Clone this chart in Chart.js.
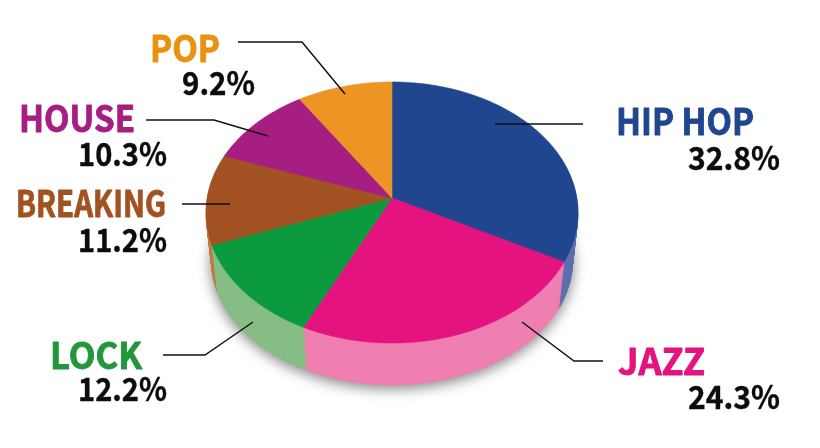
<!DOCTYPE html>
<html><head><meta charset="utf-8">
<style>html,body{margin:0;padding:0;background:#fff}canvas{display:block}#w{width:820px;height:448px;position:relative}</style>
<script src="https://cdn.jsdelivr.net/npm/chart.js@4"></script>
</head><body><div id="w"><canvas id="c" width="820" height="448"></canvas></div>
<script>
const categories = ['HIP HOP','JAZZ','LOCK','BREAKING','HOUSE','POP'];
const shares = [32.8,24.3,12.2,11.2,10.3,9.2];
const topColors = ['#20468f','#e4137f','#0b9a3e','#a25222','#a61e82','#ec9424'];
const wallColors = ['#5d6fae','#ef7fb0','#86bd84','#c07c46','#b860a0','#eeb060'];
const nameColors = ['#20468f','#e4137f','#22963c','#a25222','#a61e82','#e8920f'];
const labelLayout = [
 {nx:616,ny:135,nw:138,vr:780,vy:170,vw:92,line:[[495,124],[583,124]]},
 {nx:618,ny:375,nw:87,vr:780,vy:409,vw:92,line:[[522,322],[574,361],[603,361]]},
 {nx:50,ny:369,nw:92,vr:167,vy:401,vw:89,line:[[163,355],[205,355],[253,322]]},
 {nx:16,ny:217,nw:150,vr:167,vy:252,vw:89,line:[[182,204],[230,204]]},
 {nx:19,ny:132,nw:116,vr:167,vy:166,vw:89,line:[[146,120],[214,120],[268,136]]},
 {nx:150,ny:62,nw:70,vr:255,vy:95,vw:73,line:[[238,42],[302,42],[345,94]]}
];
// Perspective of the disc: apex position and projection strengths
const CX=392,CY=198,AX=184.85,BY=128.9,K=1/9,DEPTH=49.5,SY_END=0.948,SX_END=0.97;
function project(a,dy,sx,sy){
  const u=Math.cos(a),v=Math.sin(a),w=1-K*v;
  return [CX+sx*AX*u/w, CY+dy+sy*BY*v/w];
}
function slicePath(ctx,arc,dy,sx,sy){
  const {startAngle:s,endAngle:e}=arc.getProps(['startAngle','endAngle']);
  const n=Math.max(2,Math.ceil((e-s)*80));
  ctx.beginPath();
  ctx.moveTo(CX,CY+dy);
  for(let i=0;i<=n;i++){const p=project(s+(e-s)*i/n,dy,sx,sy);ctx.lineTo(p[0],p[1]);}
  ctx.closePath();
}
function drawLayer(ctx,arcs,dy,sx,sy,colorOf){
  arcs.forEach((a,i)=>{
    slicePath(ctx,a,dy,sx,sy);
    ctx.fillStyle=colorOf(i);ctx.strokeStyle=colorOf(i);ctx.lineWidth=0.6;
    ctx.fill();ctx.stroke();
  });
}
const pie3d={id:'pie3d',
  beforeDatasetsDraw(chart){
    const ctx=chart.ctx,arcs=chart.getDatasetMeta(0).data;
    ctx.save();ctx.shadowColor='rgba(0,0,0,0.5)';ctx.shadowBlur=14;ctx.shadowOffsetY=3;
    drawLayer(ctx,arcs,DEPTH,SX_END,SY_END,()=>'#bbb');
    ctx.restore();
    const N=Math.ceil(DEPTH);
    for(let j=N;j>=1;j--){
      const t=j/N;
      drawLayer(ctx,arcs,DEPTH*t,1+(SX_END-1)*t,1+(SY_END-1)*t,i=>wallColors[i]);
    }
    drawLayer(ctx,arcs,0,1,1,i=>topColors[i]);
    return false;
  },
  afterDraw(chart){
    const ctx=chart.ctx;
    ctx.save();
    ctx.strokeStyle='#111';ctx.lineWidth=1.5;ctx.lineJoin='miter';
    labelLayout.forEach(l=>{ctx.beginPath();l.line.forEach((p,i)=>i?ctx.lineTo(p[0],p[1]):ctx.moveTo(p[0],p[1]));ctx.stroke();});
    ctx.textBaseline='alphabetic';ctx.lineJoin='round';
    categories.forEach((n,i)=>{
      const l=labelLayout[i];
      ctx.font='bold 36px "Noto Sans CJK JP"';ctx.textAlign='left';ctx.fillStyle=nameColors[i];ctx.strokeStyle=nameColors[i];ctx.lineWidth=0.9;
      ctx.fillText(n,l.nx,l.ny,l.nw);ctx.strokeText(n,l.nx,l.ny,l.nw);
      const v=shares[i].toFixed(1)+'%';
      ctx.font='bold 32px "Noto Sans CJK JP"';ctx.textAlign='right';ctx.fillStyle='#0c0c0c';ctx.strokeStyle='#0c0c0c';ctx.lineWidth=0.4;
      ctx.fillText(v,l.vr,l.vy,l.vw);ctx.strokeText(v,l.vr,l.vy,l.vw);
    });
    ctx.restore();
  }
};
new Chart(document.getElementById('c'),{type:'pie',
  data:{labels:categories,datasets:[{data:shares,backgroundColor:topColors,borderColor:topColors,borderWidth:0}]},
  options:{responsive:false,animation:false,plugins:{legend:{display:false},tooltip:{enabled:false}}},
  plugins:[pie3d]});
</script></body></html>
